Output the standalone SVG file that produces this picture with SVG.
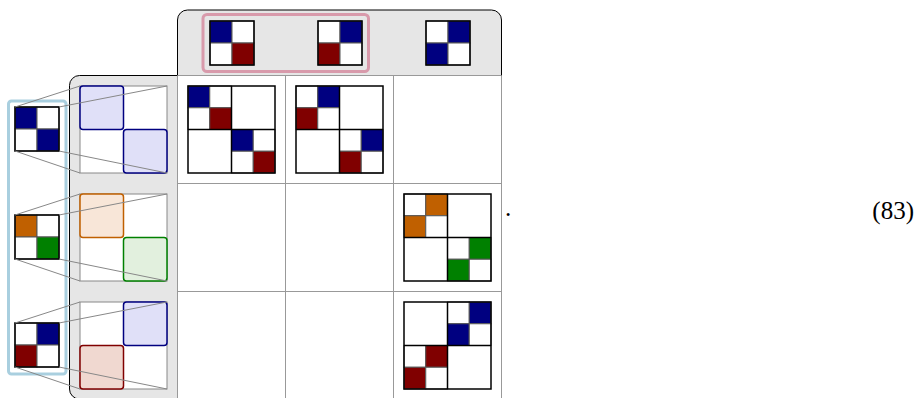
<svg xmlns="http://www.w3.org/2000/svg" width="915" height="398" viewBox="0 0 915 398">
<style>
.panel{fill:#e6e6e6;stroke:#000;stroke-width:1}
.grid{stroke:#999;stroke-width:1;fill:none}
.c{stroke:#555;stroke-width:1}
.w{fill:#fff}
.n{fill:#000080}
.m{fill:#800000}
.o{fill:#c06000}
.g{fill:#008000}
.frame{fill:none;stroke:#000;stroke-width:1.5}
.zb{fill:#fff;stroke:#888;stroke-width:1}
.ln{stroke:#888;stroke-width:1;fill:none}
.hn{fill:#e0e0f8;stroke:#000080;stroke-width:1.5}
.ho{fill:#f8e6d8;stroke:#c06000;stroke-width:1.5}
.hg{fill:#e2f0de;stroke:#008000;stroke-width:1.5}
.hm{fill:#f0d8d0;stroke:#800000;stroke-width:1.5}
.t{font-family:"Liberation Serif","Times New Roman",serif;font-size:25px;fill:#000}
</style>

<g id="panels">
<path class="panel" d="M177.5 76 V20 A10 10 0 0 1 187.5 10 H491.5 A10 10 0 0 1 501.5 20 V76"/>
<path class="panel" d="M178 75.5 H79.5 A10 10 0 0 0 69.5 85.5 V389 A10 10 0 0 0 79.5 399 H178"/>
<rect x="178" y="76" width="323.5" height="323" fill="#fff"/>
</g>

<g id="gridlines" class="grid">
<line x1="177.5" y1="75.5" x2="501.5" y2="75.5"/>
<line x1="177.5" y1="183.5" x2="501.5" y2="183.5"/>
<line x1="177.5" y1="291.5" x2="501.5" y2="291.5"/>
<line x1="177.5" y1="75.5" x2="177.5" y2="398"/>
<line x1="285.5" y1="75.5" x2="285.5" y2="398"/>
<line x1="393.5" y1="75.5" x2="393.5" y2="398"/>
<line x1="501.5" y1="75.5" x2="501.5" y2="398"/>
</g>

<g id="group-box">
<rect x="203" y="14.5" width="165.5" height="57" rx="4" fill="none" stroke="#d89aab" stroke-width="3"/>
<rect x="8.5" y="101" width="57.5" height="273" rx="3" fill="none" stroke="#a9cfdf" stroke-width="3"/>
</g>

<g id="header-1">
<rect class="c n" x="210" y="21" width="22" height="22"/><rect class="c w" x="232" y="21" width="22" height="22"/>
<rect class="c w" x="210" y="43" width="22" height="22"/><rect class="c m" x="232" y="43" width="22" height="22"/>
<rect class="frame" x="210" y="21" width="44" height="44"/>
</g>
<g id="header-2">
<rect class="c w" x="318" y="21" width="22" height="22"/><rect class="c n" x="340" y="21" width="22" height="22"/>
<rect class="c m" x="318" y="43" width="22" height="22"/><rect class="c w" x="340" y="43" width="22" height="22"/>
<rect class="frame" x="318" y="21" width="44" height="44"/>
</g>
<g id="header-3">
<rect class="c w" x="426" y="21" width="22" height="22"/><rect class="c n" x="448" y="21" width="22" height="22"/>
<rect class="c n" x="426" y="43" width="22" height="22"/><rect class="c w" x="448" y="43" width="22" height="22"/>
<rect class="frame" x="426" y="21" width="44" height="44"/>
</g>

<g id="left-1">
<rect class="c n" x="15" y="107" width="22" height="22"/><rect class="c w" x="37" y="107" width="22" height="22"/>
<rect class="c w" x="15" y="129" width="22" height="22"/><rect class="c n" x="37" y="129" width="22" height="22"/>
<rect class="frame" x="15" y="107" width="44" height="44"/>
</g>
<g id="left-2">
<rect class="c o" x="15" y="215" width="22" height="22"/><rect class="c w" x="37" y="215" width="22" height="22"/>
<rect class="c w" x="15" y="237" width="22" height="22"/><rect class="c g" x="37" y="237" width="22" height="22"/>
<rect class="frame" x="15" y="215" width="44" height="44"/>
</g>
<g id="left-3">
<rect class="c w" x="15" y="323" width="22" height="22"/><rect class="c n" x="37" y="323" width="22" height="22"/>
<rect class="c m" x="15" y="345" width="22" height="22"/><rect class="c w" x="37" y="345" width="22" height="22"/>
<rect class="frame" x="15" y="323" width="44" height="44"/>
</g>

<g id="zoom-1">
<rect class="zb" x="80" y="86" width="87" height="87"/>
<rect class="hn" x="80" y="86" width="43.5" height="43.5" rx="3"/>
<rect class="hn" x="123.5" y="129.5" width="43.5" height="43.5" rx="3"/>
</g>
<g id="zoom-2">
<rect class="zb" x="80" y="194" width="87" height="87"/>
<rect class="ho" x="80" y="194" width="43.5" height="43.5" rx="3"/>
<rect class="hg" x="123.5" y="237.5" width="43.5" height="43.5" rx="3"/>
</g>
<g id="zoom-3">
<rect class="zb" x="80" y="302" width="87" height="87"/>
<rect class="hn" x="123.5" y="302" width="43.5" height="43.5" rx="3"/>
<rect class="hm" x="80" y="345.5" width="43.5" height="43.5" rx="3"/>
</g>

<g id="connectors">
<path class="ln" d="M15 107 L80 86 M59 107 L167 86 M15 151 L80 173 M59 151 L167 173"/>
<path class="ln" d="M15 215 L80 194 M59 215 L167 194 M15 259 L80 281 M59 259 L167 281"/>
<path class="ln" d="M15 323 L80 302 M59 323 L167 302 M15 367 L80 389 M59 367 L167 389"/>
</g>

<g id="cell-1-1">
<rect class="w" x="188" y="86" width="87" height="87"/>
<rect class="c n" x="188" y="86" width="21.75" height="21.75"/><rect class="c w" x="209.75" y="86" width="21.75" height="21.75"/>
<rect class="c w" x="188" y="107.75" width="21.75" height="21.75"/><rect class="c m" x="209.75" y="107.75" width="21.75" height="21.75"/>
<rect class="c n" x="231.5" y="129.5" width="21.75" height="21.75"/><rect class="c w" x="253.25" y="129.5" width="21.75" height="21.75"/>
<rect class="c w" x="231.5" y="151.25" width="21.75" height="21.75"/><rect class="c m" x="253.25" y="151.25" width="21.75" height="21.75"/>
<path class="frame" d="M231.5 86 V173 M188 129.5 H275"/>
<rect class="frame" x="188" y="86" width="87" height="87"/>
</g>
<g id="cell-1-2">
<rect class="w" x="296" y="86" width="87" height="87"/>
<rect class="c w" x="296" y="86" width="21.75" height="21.75"/><rect class="c n" x="317.75" y="86" width="21.75" height="21.75"/>
<rect class="c m" x="296" y="107.75" width="21.75" height="21.75"/><rect class="c w" x="317.75" y="107.75" width="21.75" height="21.75"/>
<rect class="c w" x="339.5" y="129.5" width="21.75" height="21.75"/><rect class="c n" x="361.25" y="129.5" width="21.75" height="21.75"/>
<rect class="c m" x="339.5" y="151.25" width="21.75" height="21.75"/><rect class="c w" x="361.25" y="151.25" width="21.75" height="21.75"/>
<path class="frame" d="M339.5 86 V173 M296 129.5 H383"/>
<rect class="frame" x="296" y="86" width="87" height="87"/>
</g>
<g id="cell-2-3">
<rect class="w" x="404" y="194" width="87" height="87"/>
<rect class="c w" x="404" y="194" width="21.75" height="21.75"/><rect class="c o" x="425.75" y="194" width="21.75" height="21.75"/>
<rect class="c o" x="404" y="215.75" width="21.75" height="21.75"/><rect class="c w" x="425.75" y="215.75" width="21.75" height="21.75"/>
<rect class="c w" x="447.5" y="237.5" width="21.75" height="21.75"/><rect class="c g" x="469.25" y="237.5" width="21.75" height="21.75"/>
<rect class="c g" x="447.5" y="259.25" width="21.75" height="21.75"/><rect class="c w" x="469.25" y="259.25" width="21.75" height="21.75"/>
<path class="frame" d="M447.5 194 V281 M404 237.5 H491"/>
<rect class="frame" x="404" y="194" width="87" height="87"/>
</g>
<g id="cell-3-3">
<rect class="w" x="404" y="302" width="87" height="87"/>
<rect class="c w" x="447.5" y="302" width="21.75" height="21.75"/><rect class="c n" x="469.25" y="302" width="21.75" height="21.75"/>
<rect class="c n" x="447.5" y="323.75" width="21.75" height="21.75"/><rect class="c w" x="469.25" y="323.75" width="21.75" height="21.75"/>
<rect class="c w" x="404" y="345.5" width="21.75" height="21.75"/><rect class="c m" x="425.75" y="345.5" width="21.75" height="21.75"/>
<rect class="c m" x="404" y="367.25" width="21.75" height="21.75"/><rect class="c w" x="425.75" y="367.25" width="21.75" height="21.75"/>
<path class="frame" d="M447.5 302 V389 M404 345.5 H491"/>
<rect class="frame" x="404" y="302" width="87" height="87"/>
</g>

<g id="labels">
<text class="t" x="505" y="216">.</text>
<text class="t" x="914" y="219" text-anchor="end">(83)</text>
</g>
</svg>
